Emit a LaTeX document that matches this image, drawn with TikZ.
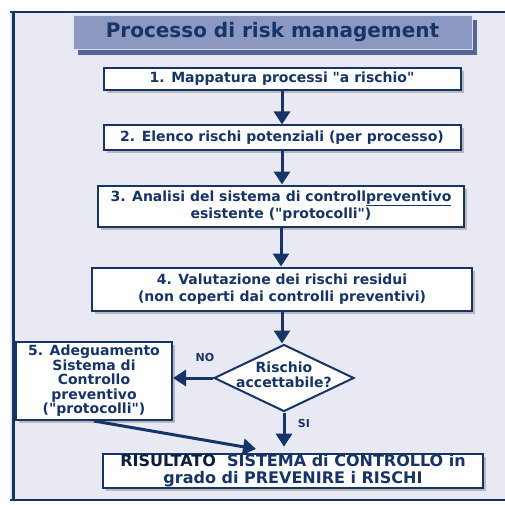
\documentclass[tikz,border=0pt]{standalone}
\usepackage{fontspec}
\setmainfont{DejaVu Sans}[Ligatures=TeXOff]
\usepackage{xcolor}
\usepackage{tikz}
\usetikzlibrary{arrows.meta, positioning, calc, shapes.geometric, shadows}

\definecolor{rmblue}{RGB}{22,52,104}
\definecolor{rmpanel}{RGB}{233,233,243}
\definecolor{rmtitle}{RGB}{140,152,192}
\definecolor{rmshade}{RGB}{84,102,150}

\begin{document}
\begin{tikzpicture}[x=1pt, y=-1pt,
  box/.style={draw=rmblue, line width=2pt, fill=white, align=center, text=rmblue,
    font=\bfseries\fontsize{14}{17}\selectfont, inner sep=1pt,
    drop shadow={shadow xshift=3pt, shadow yshift=-3pt, fill=gray!55, opacity=1}},
  decision/.style={diamond, aspect=2.1, draw=rmblue, line width=2pt, fill=white,
    inner sep=0pt, minimum width=140pt, minimum height=67pt},
  flow/.style={draw=rmblue, line width=3pt, -{Triangle[width=16pt, length=13pt]}},
  lbl/.style={text=rmblue, font=\bfseries\fontsize{11}{12}\selectfont}
]
  \useasboundingbox (0,0) rectangle (505,505);

  % Panel
  \fill[rmpanel] (10,12) rectangle (505,501);
  \draw[rmblue, line width=1.5pt] (10,12) -- (505,12);
  \draw[rmblue, line width=2pt] (10,500) -- (505,500);
  \draw[rmblue, line width=3pt] (13,12) -- (13,501);

  % Title
  \fill[rmshade] (78,20) rectangle (477,55);
  \node[fill=rmtitle, draw=white!70!rmtitle, line width=0.8pt, minimum width=399pt,
    minimum height=34pt, inner sep=0pt, text=rmblue, font=\bfseries\fontsize{20}{22}\selectfont]
    (title) at (272.5,32) {Processo di risk management};

  % --- Steps ---
  \node[box, minimum width=357pt, minimum height=22pt] (s1) at (282,79)
    {1. Mappatura processi "a rischio"};
  \node[box, minimum width=357pt, minimum height=25pt] (s2) at (282,138)
    {2. Elenco rischi potenziali (per processo)};
  \node[box, minimum width=366pt, minimum height=41pt] (s3) at (281,206)
    {3. Analisi del sistema di controll\underline{preventivo}\\esistente ("protocolli")};
  \node[box, minimum width=380pt, minimum height=43pt] (s4) at (282,289)
    {4. Valutazione dei rischi residui\\(non coperti dai controlli preventivi)};

  % --- Decision ---
  \node[decision] (dec) at (284,378) {};
  \node[text=rmblue, align=center, inner sep=0pt,
    font=\bfseries\fontsize{14}{15}\selectfont] (dectxt) at (284,375)
    {Rischio\\accettabile?};

  \node[box, minimum width=156pt, minimum height=78pt,
    font=\bfseries\fontsize{14}{14.5}\selectfont] (s5) at (94,381)
    {5. Adeguamento\\Sistema di\\Controllo\\preventivo\\("protocolli")};

  % --- Result ---
  \node[box, minimum width=380pt, minimum height=32pt,
    font=\bfseries\fontsize{16}{17}\selectfont] (res) at (293,471)
    {\textcolor{rmblue!60!black}{RISULTATO}\ \ SISTEMA di CONTROLLO in\\grado di PREVENIRE i RISCHI};
  \coordinate (tip) at (256,449);

  % Arrows
  \draw[flow] (s1.south) -- (s1.south |- s2.north);
  \draw[flow] (s2.south) -- (s2.south |- s3.north);
  \draw[flow] (s3.south) -- (s3.south |- s4.north);
  \draw[flow] (s4.south) -- (s4.south |- dec.north);
  \draw[flow] (dec.west) -- (dec.west -| s5.east);
  \draw[flow, shorten >=6pt] (dec.south) -- (dec.south |- res.north);
  \draw[flow] (s5.south) -- (tip);

  \node[lbl] (no) at (205,357) {NO};
  \node[lbl] (si) at (304,423) {SI};

\end{tikzpicture}
\end{document}
